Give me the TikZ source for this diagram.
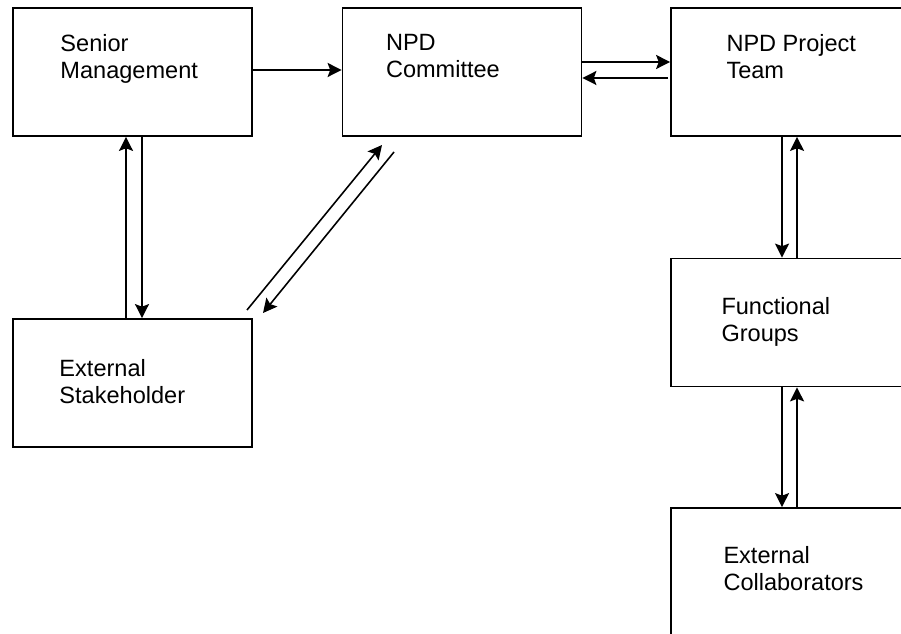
\documentclass[tikz,border=0pt]{standalone}
\usepackage{fontspec}
\setmainfont{Liberation Sans}
\usetikzlibrary{calc,arrows.meta}

\begin{document}
\begin{tikzpicture}[x=0.02cm,y=-0.02cm,
    box/.style={draw,line width=1pt,minimum width=4.78cm,minimum height=2.56cm,inner sep=0pt},
    lbl/.style={anchor=north west,inner sep=0pt,align=left,font=\fontsize{13.4pt}{15.4pt}\selectfont},
    arr/.style={line width=0.9pt,-{Stealth[length=8pt,width=8pt,inset=1.5pt]}}]
  \useasboundingbox (0,0) rectangle (901,634);

  % Boxes
  \node[box] (sm) at (132.5,72) {};
  \node[box] (npdc) at (462,72) {};
  \node[box] (npdt) at (790.5,72) {};
  \node[box] (es) at (132.5,383) {};
  \node[box] (fg) at (790.5,322.5) {};
  \node[box] (ec) at (790.5,572) {};

  % Box texts
  \node[lbl] (smt) at ($(sm.north west)+(48,27)$) {Senior\\Management};
  \node[lbl] (npdct) at ($(npdc.north west)+(44,27)$) {NPD\\Committee};
  \node[lbl] (npdtt) at ($(npdt.north west)+(56,27)$) {NPD Project\\Team};
  \node[lbl] (est) at ($(es.north west)+(47,41)$) {External\\Stakeholder};
  \node[lbl] (fgt) at ($(fg.north west)+(51,39)$) {Functional\\Groups};
  \node[lbl] (ect) at ($(ec.north west)+(53,39)$) {External\\Collaborators};

  % Top row
  \draw[arr] ($(sm.east)+(0,-2)$) -- ($(npdc.west)+(0,-2)$);
  \draw[arr] ($(npdc.east)+(0,-10)$) -- ($(npdt.west)+(0,-10)$);
  \draw[arr] ($(npdt.west)+(-2,6)$) -- ($(npdc.east)+(0,6)$);

  % Senior Management <-> External Stakeholder
  \draw[arr] ($(es.north)+(-6.5,0)$) -- ($(sm.south)+(-6.5,0)$);
  \draw[arr] ($(sm.south)+(9.5,0)$) -- ($(es.north)+(9.5,0)$);

  % Diagonal pair
  \coordinate (d1a) at (247,310);
  \coordinate (d1b) at (382,145);
  \coordinate (d2a) at (394,152);
  \coordinate (d2b) at (263,313);
  \draw[arr] (d1a) -- (d1b);
  \draw[arr] (d2a) -- (d2b);

  % Right column
  \draw[arr] ($(npdt.south)+(-8.5,0)$) -- ($(fg.north)+(-8.5,0)$);
  \draw[arr] ($(fg.north)+(6.5,0)$) -- ($(npdt.south)+(6.5,0)$);
  \draw[arr] ($(fg.south)+(-8.5,0)$) -- ($(ec.north)+(-8.5,0)$);
  \draw[arr] ($(ec.north)+(6.5,0)$) -- ($(fg.south)+(6.5,0)$);
\end{tikzpicture}
\end{document}
